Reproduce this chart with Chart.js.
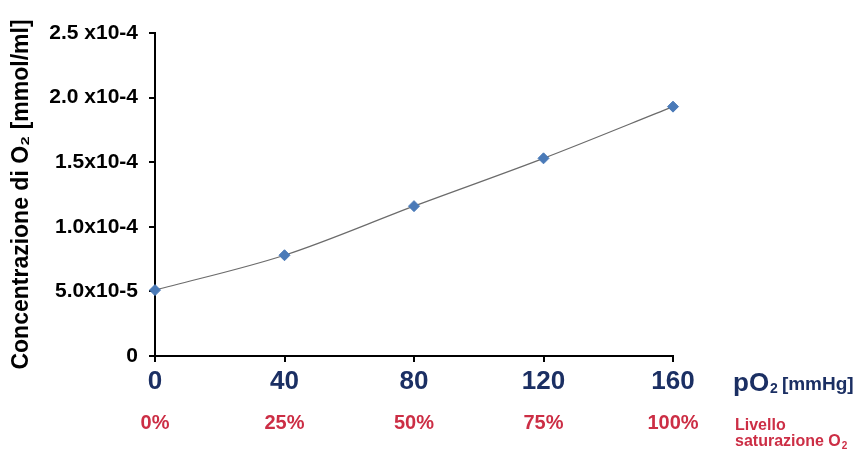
<!DOCTYPE html>
<html>
<head>
<meta charset="utf-8">
<script src="https://cdn.jsdelivr.net/npm/chart.js@4/dist/chart.umd.min.js"></script>
<style>
  html, body { margin: 0; padding: 0; background: #fff; }
  #wrap { width: 864px; height: 450px; position: relative; }
</style>
</head>
<body>
<div id="wrap"><canvas id="c" width="864" height="450"></canvas></div>
<script>
// O2 partial pressure (mmHg) and dissolved O2 concentration (mmol/ml)
const pressure = [0, 40, 80, 120, 160];
const concentration = [0.51e-4, 0.78e-4, 1.16e-4, 1.53e-4, 1.93e-4];

// Axis tick labels
const yTickValues = [0, 0.5e-4, 1.0e-4, 1.5e-4, 2.0e-4, 2.5e-4];
const yTickLabels = ['0', '5.0x10-5', '1.0x10-4', '1.5x10-4', '2.0 x10-4', '2.5 x10-4'];
const saturationLabels = ['0%', '25%', '50%', '75%', '100%'];

const NAVY = '#1b2f63';
const RED = '#cc2e45';
const FONT = '"Liberation Sans", Arial, Helvetica, sans-serif';

function labelFor(values, labels, v) {
  for (let i = 0; i < values.length; i++) {
    if (Math.abs(values[i] - v) < 1e-9) return labels[i];
  }
  return '';
}

// Titles placed to the right of the x axes
const sideTitles = {
  id: 'sideTitles',
  afterDraw(chart) {
    const ctx = chart.ctx;
    const x0 = chart.chartArea.right + 60;
    ctx.save();
    ctx.textBaseline = 'alphabetic';
    ctx.textAlign = 'left';
    // pO2 [mmHg]
    ctx.fillStyle = NAVY;
    ctx.font = 'bold 26px ' + FONT;
    ctx.fillText('pO', x0, 391);
    const w = ctx.measureText('pO').width;
    ctx.font = 'bold 14px ' + FONT;
    ctx.fillText('2', x0 + w + 1, 393);
    const w2 = ctx.measureText('2').width;
    ctx.font = 'bold 19px ' + FONT;
    ctx.fillText('[mmHg]', x0 + w + w2 + 5, 390);
    // Livello saturazione O2
    ctx.fillStyle = RED;
    ctx.font = 'bold 16px ' + FONT;
    ctx.fillText('Livello', x0 + 2, 430);
    ctx.fillText('saturazione O', x0 + 2, 446);
    const w3 = ctx.measureText('saturazione O').width;
    ctx.font = 'bold 10px ' + FONT;
    ctx.fillText('2', x0 + 3 + w3, 449);
    ctx.restore();
  }
};

new Chart(document.getElementById('c'), {
  type: 'line',
  data: {
    datasets: [{
      data: pressure.map((p, i) => ({ x: p, y: concentration[i] })),
      borderColor: '#6b6b6b',
      borderWidth: 1.2,
      tension: 0.4,
      cubicInterpolationMode: 'monotone',
      pointStyle: 'rectRot',
      pointRadius: 5.5,
      pointBackgroundColor: '#4a7ab8',
      pointBorderColor: '#4a7ab8',
      pointBorderWidth: 1,
      fill: false,
      clip: false
    }]
  },
  options: {
    responsive: false,
    animation: false,
    layout: { padding: { top: 33, right: 191, bottom: 0, left: 0 } },
    plugins: { legend: { display: false }, tooltip: { enabled: false } },
    scales: {
      x: {
        type: 'linear',
        position: 'bottom',
        min: 0, max: 160,
        weight: 1,
        afterBuildTicks(s) { s.ticks = pressure.map(v => ({ value: v })); },
        afterFit(s) { s.height = 44; },
        border: { display: true, color: '#000', width: 2 },
        grid: { drawOnChartArea: false, drawTicks: true, tickLength: 6, color: '#000', lineWidth: 2 },
        ticks: {
          color: NAVY,
          padding: 4,
          maxRotation: 0,
          font: { family: FONT, size: 26, weight: 'bold' },
          callback: v => String(v)
        }
      },
      x2: {
        type: 'linear',
        position: 'bottom',
        min: 0, max: 160,
        weight: 2,
        afterBuildTicks(s) { s.ticks = pressure.map(v => ({ value: v })); },
        afterFit(s) { s.height = 50; },
        border: { display: false },
        grid: { display: false, drawTicks: false },
        ticks: {
          color: RED,
          padding: 11,
          maxRotation: 0,
          font: { family: FONT, size: 20, weight: 'bold' },
          callback: v => saturationLabels[pressure.indexOf(v)]
        }
      },
      y: {
        type: 'linear',
        min: 0, max: 2.5e-4,
        afterBuildTicks(s) { s.ticks = yTickValues.map(v => ({ value: v })); },
        afterFit(s) { s.width = 155; },
        border: { display: true, color: '#000', width: 2 },
        grid: { drawOnChartArea: false, drawTicks: true, tickLength: 6, color: '#000', lineWidth: 2 },
        ticks: {
          color: '#000',
          padding: 11,
          font: { family: FONT, size: 21, weight: 'bold' },
          callback: v => labelFor(yTickValues, yTickLabels, v)
        },
        title: {
          display: true,
          text: 'Concentrazione di O\u2082 [mmol/ml]',
          color: '#000',
          font: { family: FONT, size: 23, weight: 'bold' },
          padding: { top: 8, bottom: 0 }
        }
      }
    }
  },
  plugins: [sideTitles]
});
</script>
</body>
</html>
